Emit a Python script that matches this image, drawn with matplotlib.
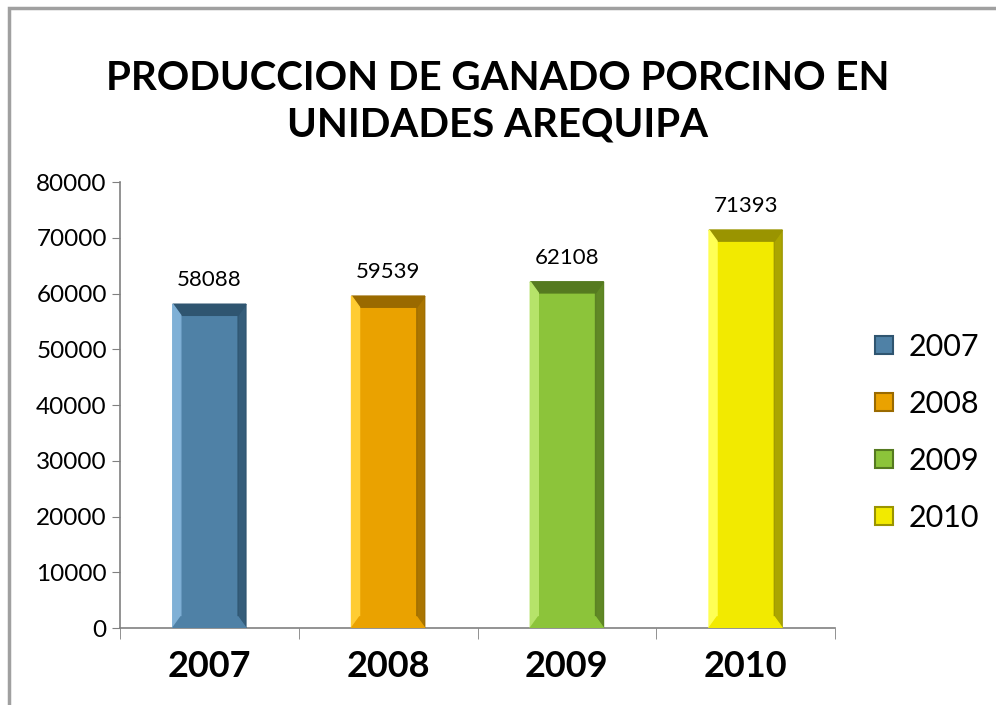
import numpy as np
import matplotlib.pyplot as plt
from matplotlib.patches import Polygon, Rectangle
from matplotlib.lines import Line2D

# Data
years = ["2007", "2008", "2009", "2010"]
values = [58088, 59539, 62108, 71393]
colors = ["#4f81a6", "#eaa200", "#8cc43a", "#f2ea00"]
light = ["#7fb0d6", "#ffcc33", "#b6e36a", "#ffff55"]
dark = ["#2f5570", "#9a6a00", "#557a20", "#9a9400"]

plt.rcParams['font.family'] = ['Lato', 'DejaVu Sans']

fig = plt.figure(figsize=(9.96, 7.05), dpi=100)
fig.patches.append(Rectangle((0.009, -0.01), 1.2, 0.998, transform=fig.transFigure,
                             fill=False, edgecolor="#a0a0a0", linewidth=2.5))
ax = fig.add_axes([0.1205, 0.1092, 0.7179, 0.6326])

x = np.arange(len(years))
w = 0.41
bars = ax.bar(x, values, width=w, color=colors, edgecolor="none", zorder=2)

# bevel effect, built from bar geometry
bx = 0.045
by = 2000
for b, c, lc, dc in zip(bars, colors, light, dark):
    x0 = b.get_x(); x1 = x0 + b.get_width(); h = b.get_height()
    ax.add_patch(Polygon([(x0, h), (x1, h), (x1 - bx, h - by), (x0 + bx, h - by)],
                         color=dc, zorder=3))
    ax.add_patch(Polygon([(x0, 0), (x0 + bx, by), (x0 + bx, h - by), (x0, h)],
                         color=lc, zorder=3))
    ax.add_patch(Polygon([(x1, 0), (x1 - bx, by), (x1 - bx, h - by), (x1, h)],
                         color=dc, alpha=0.8, zorder=3))
    ax.add_patch(Polygon([(x0, 0), (x1, 0), (x1 - bx, by), (x0 + bx, by)],
                         color=c, zorder=3))
    ax.text(b.get_x() + b.get_width() / 2, h + 2500, str(h), ha="center",
            va="bottom", fontsize=16)

ax.set_xlim(-0.5, 3.5)
ax.set_ylim(0, 80000)
ax.set_yticks(range(0, 80001, 10000))
ax.tick_params(axis="y", labelsize=17.5, length=6, color="#808080", direction="out")
ax.set_xticks(x)
ax.set_xticklabels(years, fontsize=26, fontweight="bold")
ax.tick_params(axis="x", length=0, pad=16)
ax.set_xticks(np.arange(-0.5, 4, 1), minor=True)
ax.tick_params(axis="x", which="minor", length=8, color="#808080", direction="out")
for s in ["top", "right"]:
    ax.spines[s].set_visible(False)
for s in ["left", "bottom"]:
    ax.spines[s].set_color("#808080")
    ax.spines[s].set_linewidth(1.2)

handles = [Line2D([], [], marker="s", linestyle="none", markersize=13,
                  markerfacecolor=c, markeredgecolor=d, markeredgewidth=1.5)
           for c, d in zip(colors, dark)]
fig.legend(handles, years, loc="center left", bbox_to_anchor=(0.872, 0.387),
           frameon=False, fontsize=22, labelspacing=0.95, handletextpad=0.3,
           handlelength=1.0, borderpad=0, borderaxespad=0)

fig.text(0.5, 0.889, "PRODUCCION DE GANADO PORCINO EN", ha="center", va="center",
         fontsize=29, fontweight="bold")
fig.text(0.5, 0.823, "UNIDADES AREQUIPA", ha="center", va="center",
         fontsize=29, fontweight="bold")

fig.savefig("out.png", dpi=100)
